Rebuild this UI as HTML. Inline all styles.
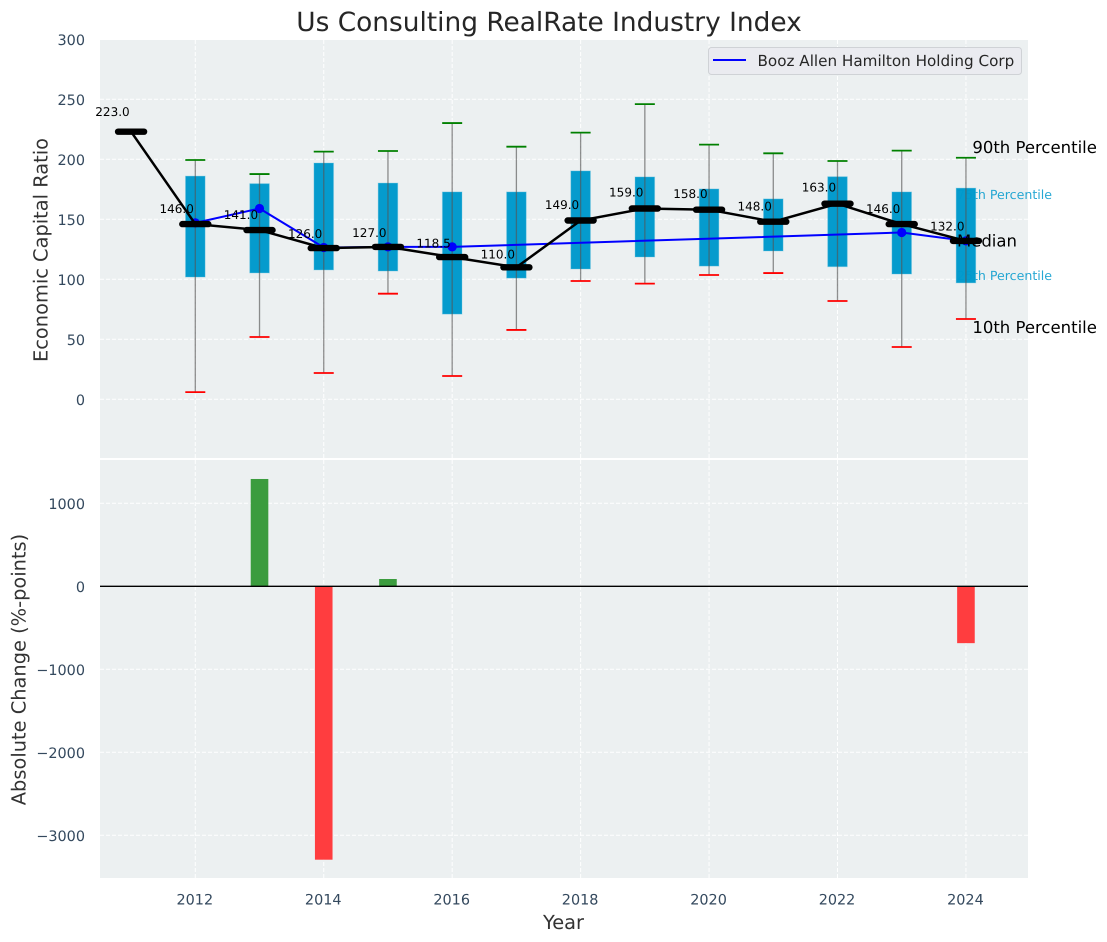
<!DOCTYPE html>
<html lang="en">
<head>
<meta charset="utf-8">
<title>Us Consulting RealRate Industry Index</title>
<style>
html,body{margin:0;padding:0;background:#fff;}
svg{display:block;font-family:"DejaVu Sans","Liberation Sans",sans-serif;text-rendering:geometricPrecision;}
</style>
</head>
<body>
<svg id="chart" xmlns="http://www.w3.org/2000/svg" width="1107" height="942" viewBox="0 0 1107 942">
  <rect x="100" y="40" width="928" height="418" fill="#ecf0f1"/>
  <rect x="100" y="460" width="928" height="418" fill="#ecf0f1"/>
  <g id="upperGrid"></g>
  <g id="lowerGrid"></g>
  <g id="yTicksUpper"></g>
  <g id="yTicksLower"></g>
  <g id="xTicks"></g>
  <g id="bars"></g>
  <line id="zeroLine" stroke="#000" stroke-width="1.3"></line>
  <g id="pctLabelsUnder"></g>
  <g id="boxes"></g>
  <g id="whiskers"></g>
  <g id="company"></g>
  <g id="pctLabelsOver"></g>
  <g id="medians"></g>
  <g id="medianLabels"></g>

  <text x="549" y="31" text-anchor="middle" font-size="26.4" fill="#262626">Us Consulting RealRate Industry Index</text>
  <text transform="translate(47.5,250) rotate(-90)" text-anchor="middle" font-size="19.4" fill="#333333">Economic Capital Ratio</text>
  <text transform="translate(25.5,669.5) rotate(-90)" text-anchor="middle" font-size="19.4" fill="#333333">Absolute Change (%-points)</text>
  <text x="563.5" y="929" text-anchor="middle" font-size="19.4" fill="#333333">Year</text>

  <g>
    <rect x="708.5" y="47.5" width="313" height="27" rx="3" fill="#eaebf0" stroke="#cfd2d6" stroke-width="1"/>
    <line x1="713" y1="60" x2="746" y2="60" stroke="#0000ff" stroke-width="2"/>
    <text x="757.5" y="66" font-size="15.2" fill="#262626">Booz Allen Hamilton Holding Corp</text>
  </g>
</svg>
<script>
// ---- chart data ----
const percentileYears = [2012, 2013, 2014, 2015, 2016, 2017, 2018, 2019, 2020, 2021, 2022, 2023, 2024];
const p90Values = [199.4, 187.7, 206.4, 206.9, 230.2, 210.5, 222.2, 246, 212.2, 205, 198.6, 207.2, 201.3];
const p75Values = [186, 179.7, 196.9, 180.2, 172.8, 172.8, 190.3, 185.3, 175.3, 167, 185.5, 172.8, 176];
const p25Values = [101.9, 105.3, 107.8, 106.9, 71, 101, 108.6, 118.6, 111, 123.6, 110.5, 104.4, 97];
const p10Values = [6, 51.9, 21.9, 88, 19.4, 57.8, 98.6, 96.4, 103.6, 105.2, 81.9, 43.6, 66.9];
const medianYears = [2011, 2012, 2013, 2014, 2015, 2016, 2017, 2018, 2019, 2020, 2021, 2022, 2023, 2024];
const medianValues = [223, 146, 141, 126, 127, 118.5, 110, 149, 159, 158, 148, 163, 146, 132];
const companyYears = [2012, 2013, 2014, 2015, 2016, 2023, 2024];
const companyValues = [147, 159, 126.5, 127, 127, 139, 132];
const changeYears = [2012, 2013, 2014, 2015, 2016, 2017, 2018, 2019, 2020, 2021, 2022, 2023, 2024];
const changeValues = [0, 1293, -3294, 88, 0, 0, 0, 0, 0, 0, 0, 0, -685];
const xTickLabels = [2012, 2014, 2016, 2018, 2020, 2022, 2024];
const upperTickLabels = [0, 50, 100, 150, 200, 250, 300];
const lowerTickLabels = [1000, 0, -1000, -2000, -3000];

// ---- axis functions ----
const SVGNS = 'http://www.w3.org/2000/svg';
const xPos = function (year) { return 195.3 + (year - 2012) * 64.22; };
const yUpper = function (v) { return 399.3 - v * 1.2; };
const yLower = function (v) { return 586.3 - v * 0.083; };
const PLOT_L = 100, PLOT_R = 1028;

function make(tag, attrs, parentId, content) {
  const node = document.createElementNS(SVGNS, tag);
  Object.keys(attrs).forEach(function (k) { node.setAttribute(k, attrs[k]); });
  if (content !== undefined) node.textContent = content;
  document.getElementById(parentId).appendChild(node);
  return node;
}
function fmtTick(v) { return v < 0 ? '\u2212' + Math.abs(v) : String(v); }
const gridStyle = { stroke: '#ffffff', 'stroke-width': 1, 'stroke-dasharray': '4 2', fill: 'none', opacity: 0.95 };
function gridAttrs(a) { return Object.assign({}, gridStyle, a); }

// ---- grids and ticks ----
upperTickLabels.forEach(function (t) {
  const g = make('line', gridAttrs({ x1: PLOT_L, x2: PLOT_R, y1: yUpper(t), y2: yUpper(t) }), 'upperGrid');
  
  
  const l = make('text', { x: 85, y: yUpper(t) + 5.6, 'text-anchor': 'end', 'font-size': 14.4, fill: '#34495e' }, 'yTicksUpper', fmtTick(t));
  
  
});
lowerTickLabels.forEach(function (t) {
  const g = make('line', gridAttrs({ x1: PLOT_L, x2: PLOT_R, y1: yLower(t), y2: yLower(t) }), 'lowerGrid');
  
  
  const l = make('text', { x: 85, y: yLower(t) + 5.6, 'text-anchor': 'end', 'font-size': 14.4, fill: '#34495e' }, 'yTicksLower', fmtTick(t));
  
  
});
xTickLabels.forEach(function (t) {
  const a = make('line', gridAttrs({ x1: xPos(t), x2: xPos(t), y1: 40, y2: 458 }), 'upperGrid');
  
  
  const b = make('line', gridAttrs({ x1: xPos(t), x2: xPos(t), y1: 460, y2: 878 }), 'lowerGrid');
  
  
  const l = make('text', { x: xPos(t) - 0.5, y: 904.5, 'text-anchor': 'middle', 'font-size': 14.4, fill: '#34495e' }, 'xTicks', String(t));
  
  
});

// ---- lower panel ----
const zero = document.getElementById('zeroLine');
zero.setAttribute('x1', PLOT_L);
zero.setAttribute('x2', PLOT_R);
zero.setAttribute('y1', yLower(0));
zero.setAttribute('y2', yLower(0));
changeYears.forEach(function (yr, i) {
  const v = changeValues[i];
  if (v === 0) return;
  const top = Math.min(yLower(v), yLower(0));
  const bar = make('rect', {
    x: xPos(yr) - 8.8, y: top, width: 17.6, height: Math.abs(yLower(v) - yLower(0)),
    fill: v > 0 ? '#3b9c3e' : '#ff3d3f'
  }, 'bars');
  
  
});

// ---- boxes and whiskers ----
percentileYears.forEach(function (yr, i) {
  const x = xPos(yr);
  const box = make('rect', {
    x: x - 9.8, y: yUpper(p75Values[i]), width: 19.6, height: yUpper(p25Values[i]) - yUpper(p75Values[i]),
    fill: '#0099cc', 'fill-opacity': 0.98, stroke: '#66c2e0', 'stroke-opacity': 0.35, 'stroke-width': 1
  }, 'boxes');
  
  
  const w = make('line', { x1: x, x2: x, y1: yUpper(p90Values[i]), y2: yUpper(p10Values[i]), stroke: '#555555', 'stroke-opacity': 0.65, 'stroke-width': 1.3 }, 'whiskers');
  
  
  const hi = make('line', { x1: x - 10, x2: x + 10, y1: yUpper(p90Values[i]), y2: yUpper(p90Values[i]), stroke: '#008000', 'stroke-width': 1.8 }, 'whiskers');
  
  
  const lo = make('line', { x1: x - 10, x2: x + 10, y1: yUpper(p10Values[i]), y2: yUpper(p10Values[i]), stroke: '#ff0000', 'stroke-width': 1.8 }, 'whiskers');
  
  
});

// ---- company series ----
const companyLine = make('polyline', {
  points: companyYears.map(function (yr, i) { return xPos(yr) + ',' + yUpper(companyValues[i]); }).join(' '),
  fill: 'none', stroke: '#0000ff', 'stroke-width': 2
}, 'company');


companyYears.forEach(function (yr, i) {
  const dot = make('circle', { cx: xPos(yr), cy: yUpper(companyValues[i]), r: 4.6, fill: '#0000ff' }, 'company');
  
  
});

// ---- median series ----
const medianLine = make('polyline', {
  points: medianYears.map(function (yr, i) { return xPos(yr) + ',' + yUpper(medianValues[i]); }).join(' '),
  fill: 'none', stroke: '#000000', 'stroke-width': 2.5
}, 'medians');


medianYears.forEach(function (yr, i) {
  const y = yUpper(medianValues[i]);
  const cap = make('line', { x1: xPos(yr) - 13, x2: xPos(yr) + 13, y1: y, y2: y, stroke: '#000000', 'stroke-width': 6.4, 'stroke-linecap': 'round' }, 'medians');
  
  
  const lab = make('text', {
    x: xPos(yr) - 18.6, y: yUpper(medianValues[i] * 1.05) - 2.4,
    'text-anchor': 'middle', 'font-size': 12, fill: '#000000'
  }, 'medianLabels', medianValues[i].toFixed(1));
  
  
});

// ---- percentile annotations (last year) ----
const last = percentileYears.length - 1;
const lastX = xPos(percentileYears[last]);
const p75Label = make('text', { x: lastX - 9, y: yUpper(p75Values[last]) + 11, 'font-size': 12.6, fill: '#0099cc', 'fill-opacity': 0.85 }, 'pctLabelsUnder', '75th Percentile');


const p25Label = make('text', { x: lastX - 9, y: yUpper(p25Values[last]) - 3, 'font-size': 12.6, fill: '#0099cc', 'fill-opacity': 0.85 }, 'pctLabelsUnder', '25th Percentile');


const p90Label = make('text', { x: lastX + 6.4, y: yUpper(p90Values[last]) - 4.5, 'font-size': 16.5, fill: '#000000' }, 'pctLabelsOver', '90th Percentile');


const p10Label = make('text', { x: lastX + 6.4, y: yUpper(p10Values[last]) + 14, 'font-size': 16.5, fill: '#000000' }, 'pctLabelsOver', '10th Percentile');


const medLabel = make('text', { x: lastX - 9, y: yUpper(medianValues[medianValues.length - 1]) + 5.5, 'font-size': 16.5, fill: '#000000' }, 'pctLabelsOver', 'Median');


</script>
</body>
</html>
